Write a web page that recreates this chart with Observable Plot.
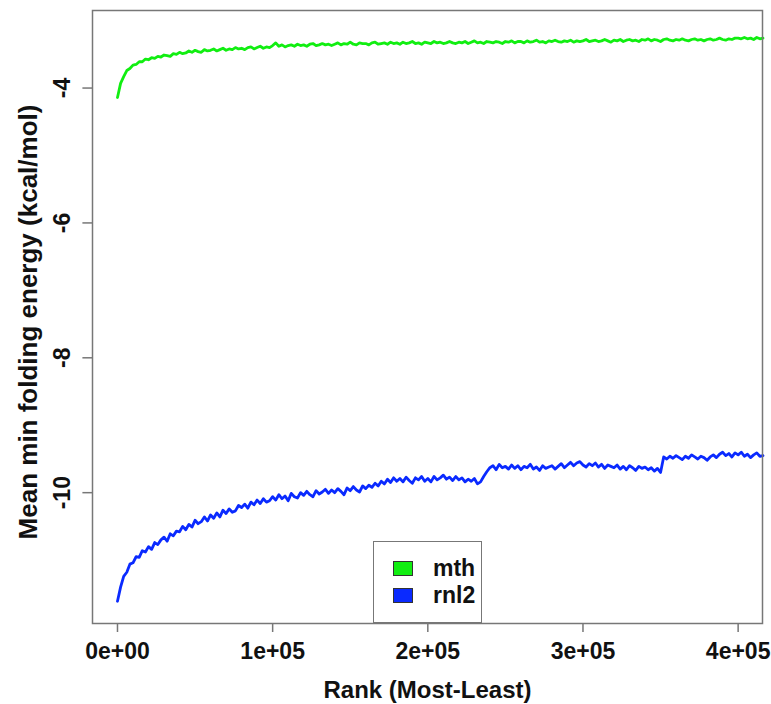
<!DOCTYPE html>
<html><head><meta charset="utf-8">
<script src="https://cdn.jsdelivr.net/npm/d3@7"></script>
<script src="https://cdn.jsdelivr.net/npm/@observablehq/plot@0.6"></script>
<style>
body{margin:0;background:#fff;}
#wrap{position:relative;width:771px;height:704px;font-family:"Liberation Sans",Arial,sans-serif;}
#legend{position:absolute;left:373px;top:541px;width:109px;height:82px;box-sizing:border-box;border:1.5px solid #777;background:#fff;font-weight:bold;font-size:23px;color:#111;}
.item{position:absolute;left:0;display:flex;align-items:center;}
.sw{width:18px;height:13px;border:1px solid #333;margin-left:19px;margin-right:20px;}
</style></head><body><div id="wrap"></div>
<script>
const seriesNames = ["mth", "rnl2"];
const seriesColors = ["#11ee11", "#0a2aff"];
const xTicks = [0, 100000, 200000, 300000, 400000];
const xTickLabels = ["0e+00", "1e+05", "2e+05", "3e+05", "4e+05"];
const yTicks = [-10, -8, -6, -4];
const yTickLabels = ["-10", "-8", "-6", "-4"];
const xTitle = "Rank (Most-Least)";
const yTitle = "Mean min folding energy (kcal/mol)";

const rank = [0,2000,4000,6000,8000,10000,12000,14000,16000,18000,
20000,22000,24000,26000,28000,30000,32000,34000,36000,38000,
40000,42000,44000,46000,48000,50000,52000,54000,56000,58000,
60000,62000,64000,66000,68000,70000,72000,74000,76000,78000,
80000,82000,84000,86000,88000,90000,92000,94000,96000,98000,
100000,102000,104000,106000,108000,110000,112000,114000,116000,118000,
120000,122000,124000,126000,128000,130000,132000,134000,136000,138000,
140000,142000,144000,146000,148000,150000,152000,154000,156000,158000,
160000,162000,164000,166000,168000,170000,172000,174000,176000,178000,
180000,182000,184000,186000,188000,190000,192000,194000,196000,198000,
200000,202000,204000,206000,208000,210000,212000,214000,216000,218000,
220000,222000,224000,226000,228000,230000,232000,234000,236000,238000,
240000,242000,244000,246000,248000,250000,252000,254000,256000,258000,
260000,262000,264000,266000,268000,270000,272000,274000,276000,278000,
280000,282000,284000,286000,288000,290000,292000,294000,296000,298000,
300000,302000,304000,306000,308000,310000,312000,314000,316000,318000,
320000,322000,324000,326000,328000,330000,332000,334000,336000,338000,
340000,342000,344000,346000,348000,350000,352000,354000,356000,358000,
360000,362000,364000,366000,368000,370000,372000,374000,376000,378000,
380000,382000,384000,386000,388000,390000,392000,394000,396000,398000,
400000,402000,404000,406000,408000,410000,412000,414000,416000];

const mth = [-4.14,-3.93,-3.83,-3.74,-3.71,-3.66,-3.65,-3.61,-3.61,-3.57,
-3.58,-3.55,-3.56,-3.53,-3.54,-3.51,-3.52,-3.53,-3.49,-3.50,
-3.47,-3.49,-3.48,-3.45,-3.47,-3.44,-3.46,-3.47,-3.43,-3.45,
-3.44,-3.42,-3.45,-3.43,-3.41,-3.44,-3.42,-3.43,-3.40,-3.42,
-3.41,-3.43,-3.40,-3.39,-3.42,-3.40,-3.38,-3.41,-3.39,-3.40,
-3.37,-3.33,-3.38,-3.36,-3.39,-3.37,-3.36,-3.38,-3.35,-3.37,
-3.36,-3.38,-3.35,-3.34,-3.37,-3.36,-3.34,-3.36,-3.35,-3.37,
-3.35,-3.33,-3.36,-3.34,-3.35,-3.32,-3.35,-3.36,-3.33,-3.34,
-3.34,-3.36,-3.33,-3.32,-3.35,-3.34,-3.33,-3.35,-3.32,-3.34,
-3.33,-3.35,-3.32,-3.34,-3.33,-3.31,-3.34,-3.33,-3.35,-3.32,
-3.33,-3.34,-3.31,-3.33,-3.32,-3.34,-3.33,-3.31,-3.33,-3.34,
-3.32,-3.33,-3.31,-3.34,-3.32,-3.30,-3.33,-3.32,-3.34,-3.31,
-3.32,-3.33,-3.31,-3.32,-3.34,-3.31,-3.32,-3.30,-3.33,-3.31,
-3.31,-3.33,-3.30,-3.32,-3.31,-3.29,-3.32,-3.31,-3.33,-3.30,
-3.31,-3.29,-3.31,-3.32,-3.30,-3.31,-3.29,-3.32,-3.30,-3.31,
-3.30,-3.28,-3.31,-3.30,-3.29,-3.31,-3.30,-3.28,-3.30,-3.32,
-3.29,-3.30,-3.28,-3.31,-3.29,-3.28,-3.30,-3.29,-3.31,-3.28,
-3.29,-3.27,-3.30,-3.28,-3.29,-3.31,-3.28,-3.27,-3.29,-3.30,
-3.28,-3.29,-3.27,-3.29,-3.30,-3.28,-3.27,-3.29,-3.28,-3.30,
-3.28,-3.27,-3.29,-3.28,-3.26,-3.28,-3.29,-3.27,-3.28,-3.26,
-3.26,-3.27,-3.25,-3.27,-3.26,-3.28,-3.25,-3.27,-3.26];

const rnl2 = [-11.61,-11.40,-11.24,-11.18,-11.06,-11.04,-10.95,-10.96,-10.86,-10.88,
-10.80,-10.84,-10.74,-10.77,-10.70,-10.66,-10.72,-10.61,-10.64,-10.57,
-10.58,-10.50,-10.55,-10.47,-10.51,-10.41,-10.46,-10.43,-10.36,-10.42,
-10.33,-10.38,-10.30,-10.36,-10.26,-10.31,-10.24,-10.29,-10.27,-10.19,
-10.22,-10.17,-10.23,-10.14,-10.18,-10.11,-10.16,-10.09,-10.14,-10.12,
-10.06,-10.11,-10.03,-10.09,-10.05,-10.12,-10.01,-10.06,-10.08,-10.00,
-10.04,-9.98,-10.03,-10.06,-9.97,-10.02,-9.99,-9.95,-10.01,-9.96,
-10.00,-9.94,-9.98,-10.03,-9.93,-9.97,-9.91,-9.96,-9.99,-9.90,
-9.94,-9.89,-9.92,-9.86,-9.90,-9.83,-9.87,-9.80,-9.85,-9.78,
-9.83,-9.79,-9.84,-9.77,-9.82,-9.86,-9.78,-9.81,-9.76,-9.83,
-9.79,-9.84,-9.76,-9.81,-9.78,-9.74,-9.80,-9.77,-9.82,-9.76,
-9.81,-9.78,-9.84,-9.80,-9.83,-9.79,-9.87,-9.84,-9.76,-9.69,
-9.63,-9.60,-9.66,-9.58,-9.63,-9.61,-9.65,-9.59,-9.64,-9.60,
-9.66,-9.61,-9.63,-9.58,-9.65,-9.62,-9.67,-9.60,-9.64,-9.62,
-9.60,-9.65,-9.61,-9.57,-9.63,-9.59,-9.55,-9.60,-9.56,-9.54,
-9.59,-9.62,-9.57,-9.60,-9.56,-9.62,-9.58,-9.64,-9.59,-9.61,
-9.63,-9.59,-9.65,-9.61,-9.66,-9.60,-9.63,-9.67,-9.61,-9.64,
-9.62,-9.66,-9.63,-9.68,-9.64,-9.70,-9.47,-9.50,-9.46,-9.49,
-9.45,-9.48,-9.51,-9.46,-9.49,-9.44,-9.47,-9.50,-9.46,-9.48,
-9.52,-9.47,-9.44,-9.48,-9.43,-9.40,-9.45,-9.42,-9.47,-9.41,
-9.44,-9.40,-9.46,-9.43,-9.48,-9.44,-9.41,-9.46,-9.45];

const data = [];
rank.forEach((r, i) => {
  data.push({rank: r, value: mth[i], series: "mth"});
  data.push({rank: r, value: rnl2[i], series: "rnl2"});
});

const font = {fontFamily: "Liberation Sans, Arial, sans-serif", fontWeight: "bold", fontSize: 23, fill: "#111"};

const chart = Plot.plot({
  width: 771, height: 704,
  marginLeft: 92, marginRight: 9, marginTop: 10, marginBottom: 81,
  style: {fontFamily: "Liberation Sans, Arial, sans-serif", background: "#fff", overflow: "visible"},
  x: {domain: [-16100, 415700]},
  y: {domain: [-11.94, -2.85]},
  color: {domain: seriesNames, range: seriesColors},
  marks: [
    Plot.line(data, {x: "rank", y: "value", stroke: "series", z: "series", strokeWidth: 2.8, strokeLinejoin: "round"}),
    Plot.frame({stroke: "#777", strokeWidth: 1.5}),
    Plot.axisX({ticks: xTicks, tickSize: 9, tickFormat: () => "", label: null, stroke: "#777", strokeWidth: 1.5}),
    Plot.axisY({ticks: yTicks, tickSize: 9.6, tickFormat: () => "", label: null, stroke: "#777", strokeWidth: 1.5}),
    Plot.text(xTicks, {x: d => d, text: (d, i) => xTickLabels[i], frameAnchor: "bottom", dy: 28, textAnchor: "middle", lineAnchor: "middle", ...font}),
    Plot.text(yTicks, {y: d => d, text: (d, i) => yTickLabels[i], frameAnchor: "left", dx: -30, rotate: -90, textAnchor: "middle", lineAnchor: "middle", ...font}),
    Plot.text([xTitle], {text: d => d, frameAnchor: "bottom", dy: 67, textAnchor: "middle", lineAnchor: "middle", ...font, fontSize: 24}),
    Plot.text([yTitle], {text: d => d, frameAnchor: "left", dx: -64, dy: 5, rotate: -90, textAnchor: "middle", lineAnchor: "middle", ...font, fontSize: 26})
  ]
});
const wrap = document.getElementById("wrap");
wrap.appendChild(chart);

const legend = document.createElement("div");
legend.id = "legend";
seriesNames.forEach((name, i) => {
  const it = document.createElement("div");
  it.className = "item";
  it.style.top = (15 + i * 27) + "px";
  const sw = document.createElement("div");
  sw.className = "sw";
  sw.style.background = seriesColors[i];
  const tx = document.createElement("span");
  tx.textContent = name;
  tx.style.lineHeight = "1";
  it.appendChild(sw); it.appendChild(tx);
  legend.appendChild(it);
});
wrap.appendChild(legend);
</script>
</body></html>
